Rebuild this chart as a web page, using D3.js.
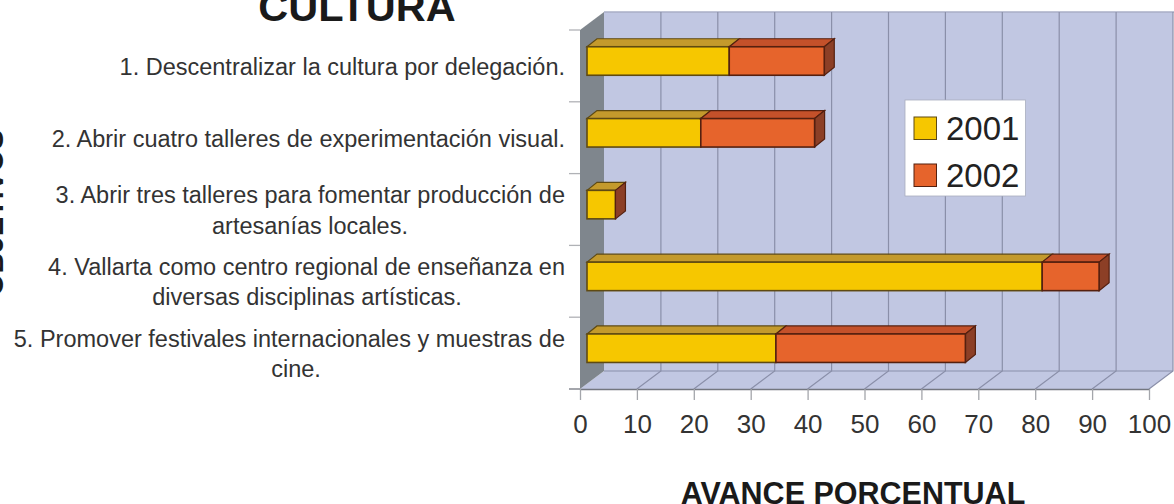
<!DOCTYPE html>
<html><head><meta charset="utf-8">
<script src="https://cdn.jsdelivr.net/npm/d3@7/dist/d3.min.js"></script>
<style>html,body{margin:0;padding:0;background:#fff;overflow:hidden}svg{display:block}text{font-family:"Liberation Sans",Arial,sans-serif}</style>
</head><body><svg id="c" width="1174" height="504"></svg>
<script>
const categories = [
  ["1. Descentralizar la cultura por delegación."],
  ["2. Abrir cuatro talleres de experimentación visual."],
  ["3. Abrir tres talleres para fomentar producción de","artesanías locales."],
  ["4. Vallarta como centro regional de enseñanza en","diversas disciplinas artísticas."],
  ["5. Promover festivales internacionales y muestras de","cine."]
];
const series2001 = [25, 20, 5, 80, 33.2];
const series2002 = [16.7, 20, 0, 10, 33.3];
const years = ["2001","2002"];
const xTicks = d3.range(0,101,10);

const svg = d3.select("#c");
const x = d3.scaleLinear().domain([0,100]).range([580,1149]);
const y = d3.scaleBand().domain(d3.range(5)).range([30,389]);
const wall = {dx:24, dy:-18};
const barOff = {dx:7, dy:-5.5};
const depth = {dx:10, dy:-8};
const barH = 28.5;
const cols = {
  "2001":{front:"#f6c700",top:"#c49a2c",edge:"#5f4a12"},
  "2002":{front:"#e6642c",top:"#c4512a",side:"#8c3f26",edge:"#55200f"}
};
const pts = a => a.map(p=>p.join(",")).join(" ");
const yTop=30, yBot=389, xL=x(0), xR=x(100);

svg.append("polygon").attr("points",pts([[xL+wall.dx,yTop+wall.dy],[xR+wall.dx,yTop+wall.dy],[xR+wall.dx,yBot+wall.dy],[xL+wall.dx,yBot+wall.dy]])).attr("fill","#c1c7e2");
svg.append("line").attr("x1",xL+wall.dx).attr("x2",xR+wall.dx+1).attr("y1",yTop+wall.dy).attr("y2",yTop+wall.dy).attr("stroke","#a9aec6").attr("stroke-width",1.5);
svg.append("polygon").attr("points",pts([[xL,yBot],[xR,yBot],[xR+wall.dx,yBot+wall.dy],[xL+wall.dx,yBot+wall.dy]])).attr("fill","#c1c7e2");
svg.append("polygon").attr("points",pts([[xL,yTop],[xL+wall.dx,yTop+wall.dy],[xL+wall.dx,yBot+wall.dy],[xL,yBot]])).attr("fill","#7f868d");
svg.append("g").selectAll("polyline").data(xTicks.filter(d=>d>0)).join("polyline")
  .attr("points",d=>pts([[x(d),yBot],[x(d)+wall.dx,yBot+wall.dy],[x(d)+wall.dx,yTop+wall.dy]]))
  .attr("fill","none").attr("stroke","#8a8fa9").attr("stroke-width",1.2);
svg.append("line").attr("x1",xL+wall.dx).attr("x2",xR+wall.dx).attr("y1",yBot+wall.dy).attr("y2",yBot+wall.dy).attr("stroke","#8a8fa9").attr("stroke-width",1.2);

const xAxis = d3.axisBottom(x).tickValues(xTicks).tickSize(11).tickPadding(15).tickSizeOuter(0);
const gx = svg.append("g").attr("transform",`translate(0,${yBot})`).call(xAxis);
gx.select(".domain").attr("stroke","#73767f").attr("stroke-width",1.5);
gx.selectAll(".tick line").attr("stroke","#a4a6ab").attr("stroke-width",1.3);
gx.selectAll("text").attr("font-size",26).attr("fill","#333").style("font-family",'"Liberation Sans",Arial,sans-serif');

const tickYs = d3.range(6).map(i=> i<5 ? y(i) : yBot);
svg.append("g").selectAll("line").data(tickYs).join("line")
  .attr("x1",569).attr("x2",xL).attr("y1",d=>d).attr("y2",d=>d)
  .attr("stroke",(d,i)=>i==5?"#73767f":"#b0b2b6").attr("stroke-width",1.3);

function drawSeg(g,v0,v1,c,i){
  const xa=x(v0)+barOff.dx, xb=x(v1)+barOff.dx;
  const yf=y(i)+y.bandwidth()/2+barOff.dy-barH/2+0.6, yb=yf+barH;
  if(v1>v0) g.append("polygon").attr("points",pts([[xa,yf],[xa+depth.dx,yf+depth.dy],[xb+depth.dx,yf+depth.dy],[xb,yf]])).attr("fill",c.top).attr("stroke",c.edge).attr("stroke-width",1.2);
  if(c.side) g.append("polygon").attr("points",pts([[xb,yf],[xb+depth.dx,yf+depth.dy],[xb+depth.dx,yb+depth.dy],[xb,yb]])).attr("fill",c.side).attr("stroke",c.edge).attr("stroke-width",1.2);
  if(v1>v0) g.append("rect").attr("x",xa).attr("y",yf).attr("width",xb-xa).attr("height",barH).attr("fill",c.front).attr("stroke",c.edge).attr("stroke-width",1.6);
}
const bars = svg.append("g");
series2001.forEach((v,i)=>{
  const g=bars.append("g");
  drawSeg(g,0,v,cols["2001"],i);
  drawSeg(g,v,v+series2002[i],cols["2002"],i);
});

const labelBaselines=[[75],[147],[203,234],[275,305],[347,377]];
const secondLineX=[0,0,310,307,296];
const lab = svg.append("g").attr("font-size",23.5).attr("fill","#333");
categories.forEach((lines,i)=>{
  lines.forEach((t,j)=>{
    lab.append("text").attr("x",j===0?565:secondLineX[i]).attr("y",labelBaselines[i][j]).attr("text-anchor",j===0?"end":"middle").text(t);
  });
});

const leg=svg.append("g");
leg.append("rect").attr("x",905).attr("y",100).attr("width",120.5).attr("height",96).attr("fill","#fff").attr("stroke","#a9adbd").attr("stroke-width",.8);
years.forEach((yr,i)=>{
  const yy=117+i*47;
  leg.append("rect").attr("x",914).attr("y",yy).attr("width",22.5).attr("height",22.5).attr("fill",cols[yr].front).attr("stroke",cols[yr].edge).attr("stroke-width",1);
  leg.append("text").attr("x",946).attr("y",yy+23).attr("font-size",33).attr("fill","#222").text(yr);
});

svg.append("text").attr("x",357).attr("y",21).attr("text-anchor","middle").attr("font-size",41.5).attr("font-weight","bold").attr("fill","#1a1a1a").text("CULTURA");
svg.append("text").attr("x",853).attr("y",504).attr("text-anchor","middle").attr("font-size",30.5).attr("font-weight","bold").attr("fill","#1a1a1a").text("AVANCE PORCENTUAL");
svg.append("text").attr("transform","translate(3,213) rotate(-90)").attr("text-anchor","middle").attr("font-size",29).attr("font-weight","bold").attr("fill","#1a1a1a").text("OBJETIVOS");
</script></body></html>
